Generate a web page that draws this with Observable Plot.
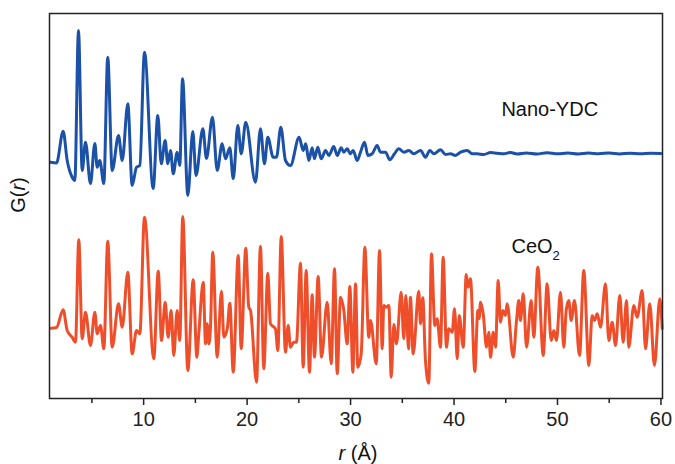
<!DOCTYPE html>
<html>
<head>
<meta charset="utf-8">
<script src="https://cdn.jsdelivr.net/npm/d3@7"></script>
<script src="https://cdn.jsdelivr.net/npm/@observablehq/plot@0.6"></script>
<style>
  html, body { margin: 0; padding: 0; background: #fff; }
  #chart { width: 675px; height: 464px; }
</style>
</head>
<body>
<div id="chart"></div>
<script>
// ---- Data ----
const blueR = [1.00,1.58,2.22,2.61,3.09,3.35,3.70,4.06,4.38,4.86,5.28,5.51,5.76,6.15,6.53,6.96,7.57,7.93,8.47,8.89,9.31,9.63,10.08,10.92,11.37,11.70,12.08,12.33,12.60,12.86,13.24,13.49,13.76,14.27,14.75,15.06,15.72,16.07,16.65,17.11,17.59,17.91,18.33,18.66,19.10,19.43,19.87,20.81,21.29,21.68,22.00,22.52,22.84,23.26,23.71,24.19,25.03,25.42,25.67,25.96,26.29,26.51,26.83,27.16,27.58,27.90,28.38,28.71,29.09,29.35,29.67,29.99,30.25,30.64,30.96,31.35,31.67,32.09,32.57,32.89,33.38,33.79,34.25,34.66,35.15,35.63,36.11,36.76,37.24,37.66,38.05,38.69,39.18,39.66,40.14,40.63,41.27,41.76,42.24,42.88,43.53,44.17,44.81,45.46,46.10,47,48,49,50,51,52,53,54,55,56,57,58,59,60];
const blueG = [-0.87,-0.95,2.23,-0.7,-2.37,-2.7,12.3,-1.7,1.13,-3.0,1.0,-1.37,-0.7,-3.0,9.63,-1.7,1.8,-0.7,4.97,-3.2,-1.37,-1.2,10.13,-3.5,3.8,-1.03,1.3,-1.03,0.3,-2.03,0.13,-1.2,7.47,-4.2,2.2,-2.2,2.47,-0.5,3.63,-1.7,0.97,-0.53,0.57,-2.53,2.8,-0.03,3.13,-2.87,2.47,-1.03,1.63,-0.37,-0.37,2.63,-0.7,-1.2,1.63,0.3,0.97,-0.7,0.57,-0.53,0.63,-0.53,0.3,-0.2,0.7,-0.2,0.57,0.13,0.47,-0.03,0.3,-0.7,0.13,1.13,-0.2,-0.03,0.8,0.13,0.13,-0.63,-0.03,0.47,0.13,0.3,-0.03,0.3,-0.37,0.3,-0.03,0.37,-0.1,-0.03,-0.2,0.13,0.3,-0.03,-0.03,-0.1,0.1,0.03,-0.03,0.1,-0.05,0.05,-0.05,0.08,-0.03,0.05,-0.05,0.04,-0.02,0.05,-0.04,0.03,-0.03,0.02,0.0];

const redR = [1.00,1.58,2.22,2.61,3.09,3.41,3.73,4.06,4.38,4.86,5.28,5.51,5.83,6.15,6.53,6.96,7.57,7.93,8.47,8.89,9.31,9.63,10.08,10.98,11.41,11.73,12.08,12.37,12.66,12.91,13.24,13.49,13.78,14.27,14.79,15.14,15.33,15.76,15.98,16.14,16.30,16.46,16.68,17.11,17.52,17.75,18.08,18.33,18.66,19.14,19.43,19.87,20.16,20.33,20.91,21.29,21.61,22.00,22.26,22.74,22.97,23.30,23.71,23.97,24.19,24.51,24.77,25.16,25.42,25.71,26.03,26.29,26.51,26.87,27.19,27.74,28.13,28.45,28.71,29.03,29.35,29.67,29.93,30.22,30.48,30.70,31.03,31.38,31.76,31.93,32.48,32.80,33.06,33.21,33.44,33.70,33.93,34.18,34.44,34.89,35.14,35.34,35.60,35.79,36.05,36.59,36.76,36.98,37.24,37.56,37.82,38.14,38.37,38.69,38.95,39.27,39.49,39.82,40.05,40.31,40.50,40.89,41.18,41.37,41.59,42.01,42.30,42.43,42.56,42.82,43.14,43.36,43.53,43.79,44.01,44.27,44.49,44.71,44.97,45.13,45.72,46.04,46.26,46.42,46.69,47.01,47.46,47.71,48.10,48.62,49.00,49.39,49.65,49.90,50.29,50.61,50.84,51.09,51.32,51.64,52.13,52.54,53.03,53.35,53.58,53.84,54.16,54.64,54.96,55.29,55.61,56.02,56.35,56.67,56.89,57.38,57.70,58.19,58.51,58.92,59.37,59.89,60.12];
const redG = [-0.27,-0.2,1.57,-0.5,-1.17,-1.67,8.57,-1.33,1.33,-2.0,1.33,-0.83,0,-2.33,8.43,-2.17,2.17,-0.17,5.33,-2.83,-0.5,-0.83,10.83,-3.33,5.43,-1.5,2.33,-1.17,1.5,-3.0,1.5,-1.5,10.9,-4.5,4.57,-3.17,-0.83,4.33,-1.83,0.17,-1.83,-0.17,7.33,-3.17,3.43,-1.17,-0.33,2.23,-4.67,7.0,-2.33,7.73,1.83,1.5,-5.67,7.93,-4.33,5.23,0.17,-0.33,-2.5,8.9,-2.67,0,-2.17,-1.67,-1.67,6.23,-4.17,5.5,-4.67,3.07,-3.17,4.9,-3.17,2.33,-3.83,5.67,-4.83,2.83,1.5,-1.83,3.9,-4.67,4.17,-4.17,-2.83,7.83,-1.17,0.5,-3.83,7.5,-2.33,2.0,1.83,2.0,-5.17,0.1,-1.83,3.33,-1.33,3.0,-2.33,2.83,-2.83,3.43,0.17,2.77,-3.5,-5.77,7.17,0,0.67,-2.17,6.83,-2.17,-0.33,-0.67,1.67,-3.33,1.0,-2.17,5.1,3.83,4.67,-4.6,1.5,0.7,2.33,1.17,-2.17,-0.67,-3.17,-0.67,-2.17,4.5,0.33,1.5,1.0,2.17,-3.17,0.5,2.5,0.5,3.17,-2.17,2.5,-1.17,5.83,-3.0,4.17,-1.5,-0.5,-1.5,3.33,-2.17,1.5,2.5,0.5,2.5,-3.0,5.5,-4.0,1.0,0.5,1.17,-0.17,4.17,-1.5,0.33,-2.0,3.0,-1.67,2.5,-2.17,2.0,0.83,3.5,-2.33,2.17,-4.0,2.67,-0.3];

const blueOffset = 17.2;          // vertical stacking offset of the Nano-YDC curve
const seriesNames = ["Nano-YDC", "CeO2"];
const majorTicks = [10, 20, 30, 40, 50, 60];
const minorTicks = [5, 15, 25, 35, 45, 55];

// ---- Build tables ----
const blue = d3.range(Math.min(blueR.length, blueG.length)).map(i => ({r: blueR[i], G: blueG[i] + blueOffset}));
const red = d3.range(Math.min(redR.length, redG.length)).map(i => ({r: redR[i], G: redG[i]}));

const BLUE = "#1b51a6";
const RED = "#ef4e2a";
const FONT = "'Liberation Sans', Arial, Helvetica, sans-serif";

const plot = Plot.plot({
  width: 675,
  height: 464,
  marginLeft: 49,
  marginRight: 13,
  marginTop: 13,
  marginBottom: 66,
  style: {fontFamily: FONT, fontSize: "20px", color: "#222", background: "#fff"},
  x: {domain: [0.9, 60.15]},
  y: {domain: [-7.3, 31.2], axis: null},
  marks: [
    Plot.line(blue, {x: "r", y: "G", stroke: BLUE, strokeWidth: 3, curve: "monotone-x", strokeLinejoin: "round"}),
    Plot.line(red, {x: "r", y: "G", stroke: RED, strokeWidth: 3, curve: "monotone-x", strokeLinejoin: "round"}),
    Plot.frame({stroke: "#222", strokeWidth: 1.5}),
    Plot.axisX(minorTicks, {tickSize: 5, strokeWidth: 1.5, tickFormat: () => "", label: null}),
    Plot.axisX(majorTicks, {tickSize: 7, tickPadding: 6, strokeWidth: 1.5, label: null, fontSize: 20})
  ]
});

document.getElementById("chart").appendChild(plot);

// ---- Text annotations ----
const svg = d3.select(plot);
const xs = plot.scale("x"), ys = plot.scale("y");

// Series labels
svg.append("text")
  .attr("x", xs.apply(49.3)).attr("y", ys.apply(blueOffset + 3.7))
  .attr("text-anchor", "middle")
  .style("font-family", FONT).style("font-size", "20px").style("fill", "#111")
  .text(seriesNames[0]);

const ce = svg.append("text")
  .attr("x", xs.apply(45.6)).attr("y", ys.apply(7.2))
  .attr("text-anchor", "start")
  .style("font-family", FONT).style("font-size", "20px").style("fill", "#111");
ce.append("tspan").text("CeO");
ce.append("tspan").attr("dy", 7).style("font-size", "13px").text("2");

// Axis titles
const xt = svg.append("text")
  .attr("x", 358).attr("y", 460)
  .attr("text-anchor", "middle")
  .style("font-family", FONT).style("font-size", "20px").style("fill", "#111");
xt.append("tspan").style("font-style", "italic").text("r");
xt.append("tspan").text(" (Å)");

const yt = svg.append("text")
  .attr("transform", "translate(25,195) rotate(-90)")
  .attr("text-anchor", "middle")
  .style("font-family", FONT).style("font-size", "20px").style("fill", "#111");
yt.append("tspan").text("G(");
yt.append("tspan").style("font-style", "italic").text("r");
yt.append("tspan").text(")");
</script>
</body>
</html>
